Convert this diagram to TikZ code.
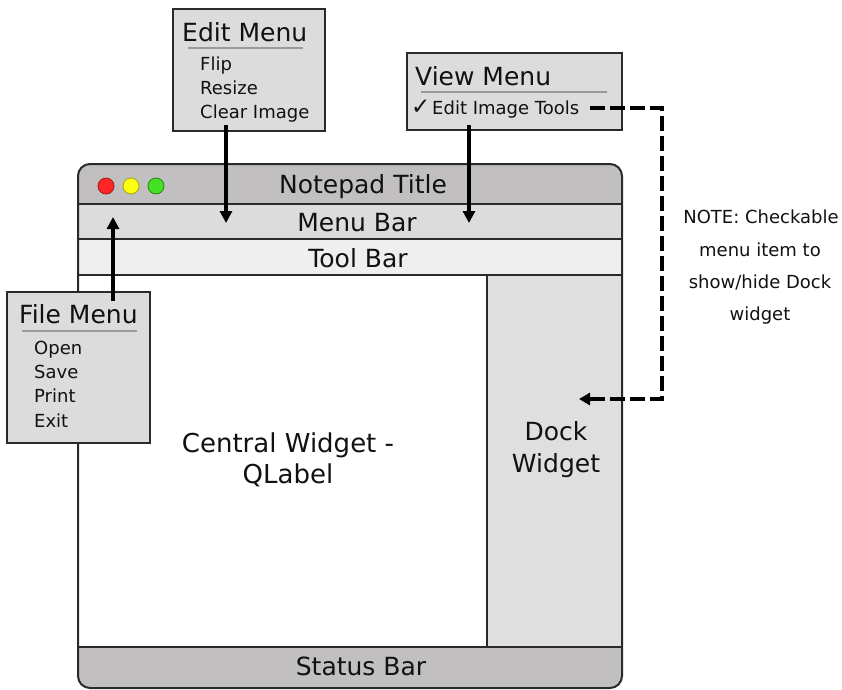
\documentclass[tikz,border=0pt]{standalone}
\usepackage{fontspec}
\setmainfont{DejaVu Sans}
\usetikzlibrary{arrows.meta}
\definecolor{titlegray}{HTML}{C1BFC0}
\definecolor{menugray}{HTML}{DCDCDC}
\definecolor{toolgray}{HTML}{EFEFEF}
\definecolor{dockgray}{HTML}{DFDFDF}
\definecolor{statusgray}{HTML}{C1BFC0}
\definecolor{edgecol}{HTML}{2A2A2A}
\definecolor{sepcol}{HTML}{9A9A9A}
\definecolor{txtcol}{HTML}{111111}
\definecolor{lightred}{HTML}{FF2626}
\definecolor{lightyellow}{HTML}{FFFF10}
\definecolor{lightgreen}{HTML}{44E022}
\tikzset{
  bigtxt/.style={font=\fontsize{25}{30}\selectfont, text=txtcol, inner sep=0pt, anchor=base},
  headtxt/.style={font=\fontsize{25}{30}\selectfont, text=txtcol, inner sep=0pt, anchor=base west},
  itemtxt/.style={font=\fontsize{18}{22}\selectfont, text=txtcol, inner sep=0pt, anchor=base west},
  notetxt/.style={font=\fontsize{18}{22}\selectfont, text=txtcol, inner sep=0pt, anchor=base},
  menubox/.style={draw=edgecol, line width=2pt, fill=menugray},
  sepline/.style={draw=sepcol, line width=1.6pt},
  arr/.style={line width=3.4pt, -{Triangle[length=12pt,width=12pt]}},
  dasharr/.style={line width=3.6pt, dash pattern=on 15pt off 5pt, -{Triangle[length=11pt,width=12pt]}},
  light/.style={circle, inner sep=0pt, minimum size=16pt, line width=0.8pt}
}
\begin{document}
\begin{tikzpicture}[x=1pt,y=-1pt]
\useasboundingbox (0,0) rectangle (842,689);
% window body
\begin{scope}
  \clip[rounded corners=12pt] (78,164) rectangle (622,688);
  \fill[white] (78,164) rectangle (622,688);
  \fill[titlegray] (78,164) rectangle (622,204);
  \fill[menugray] (78,204) rectangle (622,239);
  \fill[toolgray] (78,239) rectangle (622,275);
  \fill[dockgray] (487,275) rectangle (622,647);
  \fill[statusgray] (78,647) rectangle (622,688);
\end{scope}
\draw[edgecol, line width=1.2pt] (78,204) -- (622,204);
\draw[edgecol, line width=1.2pt] (78,239) -- (622,239);
\draw[edgecol, line width=1.6pt] (78,275) -- (622,275);
\draw[edgecol, line width=2pt] (487,275) -- (487,647);
\draw[edgecol, line width=1.2pt] (78,647) -- (622,647);
\draw[edgecol, line width=2pt, rounded corners=12pt] (78,164) rectangle (622,688);
% traffic lights
\node[light, fill=lightred, draw=lightred!65!black] (red) at (106,186) {};
\node[light, fill=lightyellow, draw=lightyellow!65!black] (yellow) at (131,186) {};
\node[light, fill=lightgreen, draw=lightgreen!60!black] (green) at (156,186) {};
% window labels
\node[bigtxt] (title) at (363,193) {Notepad Title};
\node[bigtxt] (menubar) at (357,231) {Menu Bar};
\node[bigtxt] (toolbar) at (358,267) {Tool Bar};
\node[bigtxt, font=\fontsize{26}{30}\selectfont] (central1) at (288,452) {Central Widget -};
\node[bigtxt, font=\fontsize{26}{30}\selectfont] (central2) at (288,483) {QLabel};
\node[bigtxt] (dock1) at (556,440) {Dock};
\node[bigtxt] (dock2) at (556,472) {Widget};
\node[bigtxt] (status) at (361,675) {Status Bar};
% Edit menu
\path[menubox] (173,9) rectangle (325,131);
\node[headtxt] (edithead) at (182,41) {Edit Menu};
\path[sepline] (188,48) -- (303,48);
\node[itemtxt] (flip) at (200,70) {Flip};
\node[itemtxt] (resize) at (200,94) {Resize};
\node[itemtxt] (clear) at (200,118) {Clear Image};
% View menu
\path[menubox] (407,53) rectangle (622,130);
\node[headtxt] (viewhead) at (415,85) {View Menu};
\path[sepline] (421,92) -- (607,92);
\node[itemtxt, font=\fontsize{23}{24}\selectfont] (check) at (411,114) {✓};
\node[itemtxt, font=\fontsize{18}{20}\selectfont] (viewitem) at (432,114) {Edit Image Tools};
% File menu
\path[menubox] (7,292) rectangle (150,443);
\node[headtxt] (filehead) at (19,323) {File Menu};
\path[sepline] (22,331) -- (137,331);
\node[itemtxt] (open) at (34,354) {Open};
\node[itemtxt] (save) at (34,378) {Save};
\node[itemtxt] (print) at (34,402) {Print};
\node[itemtxt] (exit) at (34,427) {Exit};
% note
\node[notetxt] (note1) at (761,223) {NOTE: Checkable};
\node[notetxt] (note2) at (760,256) {menu item to};
\node[notetxt] (note3) at (760,288) {show/hide Dock};
\node[notetxt] (note4) at (760,320) {widget};
% connector points
\coordinate (editA) at (226,125);
\coordinate (editB) at (226,223);
\coordinate (viewA) at (469,125);
\coordinate (viewB) at (469,223);
\coordinate (fileA) at (113,301);
\coordinate (fileB) at (113,217);
\coordinate (dashA) at (590,108);
\coordinate (dashC1) at (662,108);
\coordinate (dashC2) at (662,399);
\coordinate (dashB) at (579,399);
\draw[arr] (editA) -- (editB);
\draw[arr] (viewA) -- (viewB);
\draw[arr] (fileA) -- (fileB);
\draw[dasharr] (dashA) -- (dashC1) -- (dashC2) -- (dashB);
\end{tikzpicture}
\end{document}
